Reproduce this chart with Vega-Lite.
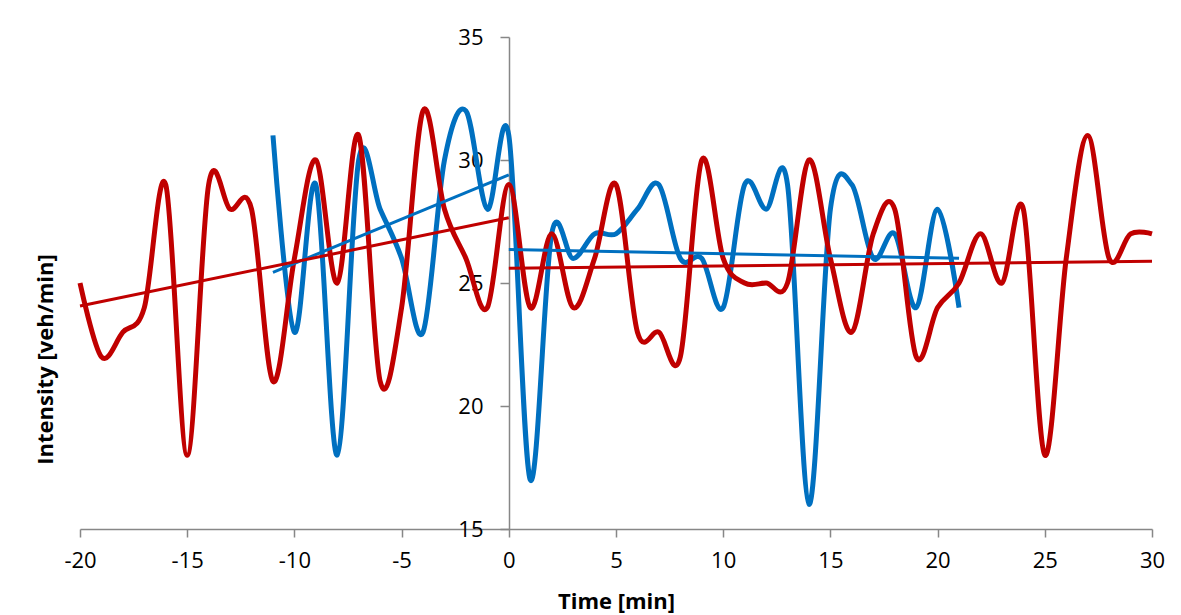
{
  "$schema": "https://vega.github.io/schema/vega-lite/v6.json",
  "width": 1072,
  "height": 492,
  "autosize": {"type": "none"},
  "padding": {"left": 80, "top": 37, "right": 29, "bottom": 86},
  "background": "white",
  "config": {"view": {"stroke": null}, "font": "Open Sans"},
  "data": {
    "values": [
      {"s": "Series 1", "t": -11, "v": 31},
      {"s": "Series 1", "t": -10, "v": 23},
      {"s": "Series 1", "t": -9, "v": 29},
      {"s": "Series 1", "t": -8, "v": 18},
      {"s": "Series 1", "t": -7, "v": 30},
      {"s": "Series 1", "t": -6, "v": 28},
      {"s": "Series 1", "t": -5, "v": 26},
      {"s": "Series 1", "t": -4, "v": 23},
      {"s": "Series 1", "t": -3, "v": 30},
      {"s": "Series 1", "t": -2, "v": 32},
      {"s": "Series 1", "t": -1, "v": 28},
      {"s": "Series 1", "t": 0, "v": 31},
      {"s": "Series 1", "t": 1, "v": 17},
      {"s": "Series 1", "t": 2, "v": 27},
      {"s": "Series 1", "t": 3, "v": 26},
      {"s": "Series 1", "t": 4, "v": 27},
      {"s": "Series 1", "t": 5, "v": 27},
      {"s": "Series 1", "t": 6, "v": 28},
      {"s": "Series 1", "t": 7, "v": 29},
      {"s": "Series 1", "t": 8, "v": 26},
      {"s": "Series 1", "t": 9, "v": 26},
      {"s": "Series 1", "t": 10, "v": 24},
      {"s": "Series 1", "t": 11, "v": 29},
      {"s": "Series 1", "t": 12, "v": 28},
      {"s": "Series 1", "t": 13, "v": 29},
      {"s": "Series 1", "t": 14, "v": 16},
      {"s": "Series 1", "t": 15, "v": 28},
      {"s": "Series 1", "t": 16, "v": 29},
      {"s": "Series 1", "t": 17, "v": 26},
      {"s": "Series 1", "t": 18, "v": 27},
      {"s": "Series 1", "t": 19, "v": 24},
      {"s": "Series 1", "t": 20, "v": 28},
      {"s": "Series 1", "t": 21, "v": 24},
      {"s": "Series 2", "t": -20, "v": 25},
      {"s": "Series 2", "t": -19, "v": 22},
      {"s": "Series 2", "t": -18, "v": 23},
      {"s": "Series 2", "t": -17, "v": 24},
      {"s": "Series 2", "t": -16, "v": 29},
      {"s": "Series 2", "t": -15, "v": 18},
      {"s": "Series 2", "t": -14, "v": 29},
      {"s": "Series 2", "t": -13, "v": 28},
      {"s": "Series 2", "t": -12, "v": 28},
      {"s": "Series 2", "t": -11, "v": 21},
      {"s": "Series 2", "t": -10, "v": 26},
      {"s": "Series 2", "t": -9, "v": 30},
      {"s": "Series 2", "t": -8, "v": 25},
      {"s": "Series 2", "t": -7, "v": 31},
      {"s": "Series 2", "t": -6, "v": 21},
      {"s": "Series 2", "t": -5, "v": 24},
      {"s": "Series 2", "t": -4, "v": 32},
      {"s": "Series 2", "t": -3, "v": 28},
      {"s": "Series 2", "t": -2, "v": 26},
      {"s": "Series 2", "t": -1, "v": 24},
      {"s": "Series 2", "t": 0, "v": 29},
      {"s": "Series 2", "t": 1, "v": 24},
      {"s": "Series 2", "t": 2, "v": 27},
      {"s": "Series 2", "t": 3, "v": 24},
      {"s": "Series 2", "t": 4, "v": 26},
      {"s": "Series 2", "t": 5, "v": 29},
      {"s": "Series 2", "t": 6, "v": 23},
      {"s": "Series 2", "t": 7, "v": 23},
      {"s": "Series 2", "t": 8, "v": 22},
      {"s": "Series 2", "t": 9, "v": 30},
      {"s": "Series 2", "t": 10, "v": 26},
      {"s": "Series 2", "t": 11, "v": 25},
      {"s": "Series 2", "t": 12, "v": 25},
      {"s": "Series 2", "t": 13, "v": 25},
      {"s": "Series 2", "t": 14, "v": 30},
      {"s": "Series 2", "t": 15, "v": 26},
      {"s": "Series 2", "t": 16, "v": 23},
      {"s": "Series 2", "t": 17, "v": 27},
      {"s": "Series 2", "t": 18, "v": 28},
      {"s": "Series 2", "t": 19, "v": 22},
      {"s": "Series 2", "t": 20, "v": 24},
      {"s": "Series 2", "t": 21, "v": 25},
      {"s": "Series 2", "t": 22, "v": 27},
      {"s": "Series 2", "t": 23, "v": 25},
      {"s": "Series 2", "t": 24, "v": 28},
      {"s": "Series 2", "t": 25, "v": 18},
      {"s": "Series 2", "t": 26, "v": 26},
      {"s": "Series 2", "t": 27, "v": 31},
      {"s": "Series 2", "t": 28, "v": 26},
      {"s": "Series 2", "t": 29, "v": 27},
      {"s": "Series 2", "t": 30, "v": 27}
    ]
  },
  "encoding": {
    "x": {
      "field": "t",
      "type": "quantitative",
      "scale": {"domain": [-20, 30], "nice": false, "zero": false},
      "axis": {
        "values": [-20, -15, -10, -5, 0, 5, 10, 15, 20, 25, 30],
        "labelExpr": "replace(datum.label, '\u2212', '-')",
        "grid": false,
        "domainColor": "#878787",
        "domainWidth": 1.5,
        "tickColor": "#878787",
        "tickWidth": 1.5,
        "tickSize": 8,
        "labelFlush": false,
        "labelFontSize": 22,
        "labelColor": "black",
        "labelPadding": 13,
        "title": "Time [min]",
        "titleFontSize": 22,
        "titleFontWeight": "bold",
        "titleColor": "black",
        "titlePadding": 20
      }
    },
    "y": {
      "field": "v",
      "type": "quantitative",
      "scale": {"domain": [15, 35], "nice": false, "zero": false},
      "axis": {
        "values": [15, 20, 25, 30, 35],
        "offset": -429,
        "grid": false,
        "domainColor": "#878787",
        "domainWidth": 1.5,
        "tickColor": "#878787",
        "tickWidth": 1.5,
        "tickSize": 9,
        "labelFontSize": 22,
        "labelColor": "black",
        "labelPadding": 17,
        "title": "Intensity [veh/min]",
        "titleFontSize": 22,
        "titleFontWeight": "bold",
        "titleColor": "black",
        "titleX": -464,
        "titleY": 322,
        "titleAngle": -90,
        "titleAlign": "center",
        "titleBaseline": "middle"
      }
    },
    "color": {
      "field": "s",
      "type": "nominal",
      "scale": {"domain": ["Series 1", "Series 2"], "range": ["#0070C0", "#C00000"]},
      "legend": null
    }
  },
  "layer": [
    {"mark": {"type": "line", "interpolate": "cardinal", "strokeWidth": 5}},
    {
      "transform": [
        {"filter": "datum.t <= 0"},
        {"regression": "v", "on": "t", "groupby": ["s"]}
      ],
      "mark": {"type": "line", "strokeWidth": 3}
    },
    {
      "transform": [
        {"filter": "datum.t >= 0"},
        {"regression": "v", "on": "t", "groupby": ["s"]}
      ],
      "mark": {"type": "line", "strokeWidth": 3}
    }
  ]
}
